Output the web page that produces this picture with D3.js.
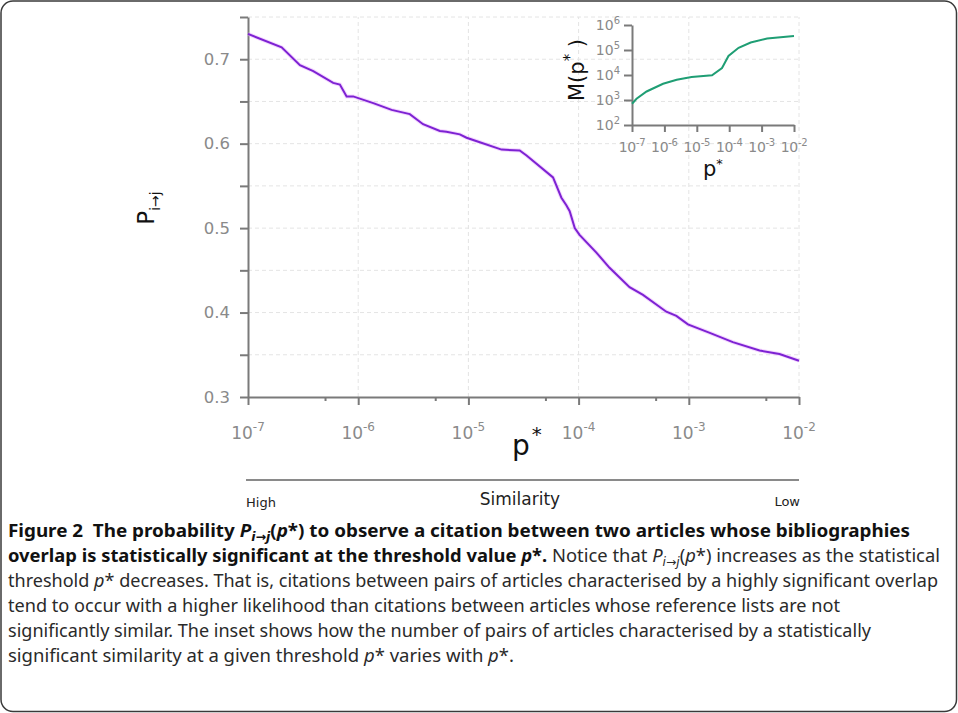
<!DOCTYPE html>
<html>
<head>
<meta charset="utf-8">
<script src="https://cdn.jsdelivr.net/npm/d3@7"></script>
<style>
  body { margin: 0; background: #fff; }
  svg { display: block; }
</style>
</head>
<body>
<script>
const width = 958;
const height = 713;

// main curve: threshold p* and probability P(i->j)
const pStar = [1e-7, 2.02e-7, 2.96e-7, 3.91e-7, 5.93e-7, 6.82e-7, 7.85e-7, 9.0e-7,
    1.37e-6, 2.01e-6, 2.94e-6, 3.88e-6, 5.51e-6, 6.32e-6, 8.36e-6, 9.62e-6,
    1.25e-5, 2.0e-5, 2.92e-5, 3.37e-5, 5.86e-5, 6.98e-5, 7.74e-5, 8.30e-5, 9.23e-5,
    1.02e-4, 1.45e-4, 1.91e-4, 2.90e-4, 3.84e-4, 6.25e-4, 7.71e-4, 9.82e-4,
    1.55e-3, 2.51e-3, 4.39e-3, 6.65e-3, 1e-2];
const pCite = [0.730, 0.714, 0.693, 0.686, 0.672, 0.670, 0.656, 0.656,
    0.648, 0.640, 0.635, 0.623, 0.615, 0.614, 0.611, 0.607,
    0.602, 0.593, 0.592, 0.586, 0.560, 0.536, 0.527, 0.520, 0.500,
    0.492, 0.471, 0.453, 0.430, 0.421, 0.401, 0.396, 0.386,
    0.376, 0.365, 0.355, 0.351, 0.343];

// inset: number of pairs M(p*)
const insetP = [1e-7, 1.38e-7, 2.82e-7, 9.1e-7, 2.4e-6, 6.9e-6, 2.95e-5, 6.0e-5, 9.5e-5, 1.95e-4, 4.6e-4, 1.48e-3, 1e-2];
const insetM = [708, 1120, 2190, 4470, 6460, 8320, 9770, 19000, 57500, 123000, 200000, 288000, 363000];

const yTickValues = [0.3, 0.35, 0.4, 0.45, 0.5, 0.55, 0.6, 0.65, 0.7, 0.75];
const xDecades = [-7, -6, -5, -4, -3, -2];
const xMinor = [5e-7, 5e-6, 5e-5, 5e-4, 5e-3];
const insetYDecades = [2, 3, 4, 5, 6];

const caption = [
  [["Figure 2\u00a0 The probability ", "b"], ["P", "bi"], ["i→j", "bis"], ["(", "b"], ["p", "bi"], ["*) to observe a citation between two articles whose bibliographies", "b"]],
  [["overlap is statistically significant at the threshold value ", "b"], ["p", "bi"], ["*.", "b"], [" Notice that ", ""], ["P", "i"], ["i→j", "is"], ["(", ""], ["p", "i"], ["*) increases as the statistical", ""]],
  [["threshold ", ""], ["p", "i"], ["* decreases. That is, citations between pairs of articles characterised by a highly significant overlap", ""]],
  [["tend to occur with a higher likelihood than citations between articles whose reference lists are not", ""]],
  [["significantly similar. The inset shows how the number of pairs of articles characterised by a statistically", ""]],
  [["significant similarity at a given threshold ", ""], ["p", "i"], ["* varies with ", ""], ["p", "i"], ["*.", ""]]
];
const captionWidths = [902, 932, 930, 832, 863, 506];

const axisColor = "#7a7a7a";
const labelColor = "#8a8a8a";
const font = "'DejaVu Sans', Verdana, sans-serif";

const svg = d3.select("body")
    .append("svg")
    .attr("width", width)
    .attr("height", height);

svg.append("rect")
    .attr("x", 1).attr("y", 1)
    .attr("width", width - 2.5).attr("height", height - 2.5)
    .attr("rx", 12)
    .attr("fill", "#fff")
    .attr("stroke", "#3a3a3a")
    .attr("stroke-width", 1.5);

// ---------- main chart ----------
const x = d3.scaleLog().domain([1e-7, 1e-2]).range([248, 799]);
const y = d3.scaleLinear().domain([0.3, 0.75]).range([397, 17]);

const grid = svg.append("g")
    .attr("stroke", "#e4e4e4")
    .attr("stroke-width", 1)
    .attr("stroke-dasharray", "4,3");
grid.selectAll(".hg")
    .data(yTickValues.slice(1))
    .enter().append("line")
    .attr("x1", x.range()[0]).attr("x2", x.range()[1])
    .attr("y1", d => y(d)).attr("y2", d => y(d));
grid.selectAll(".vg")
    .data(xDecades.slice(1))
    .enter().append("line")
    .attr("x1", d => x(Math.pow(10, d))).attr("x2", d => x(Math.pow(10, d)))
    .attr("y1", y.range()[0]).attr("y2", y.range()[1]);

function styleAxis(g) {
    g.select(".domain").attr("stroke", axisColor).attr("stroke-width", 2);
    g.selectAll(".tick line").attr("stroke", axisColor).attr("stroke-width", 2);
    g.selectAll(".tick text").attr("fill", labelColor).style("font-family", font);
}

const yAxisG = svg.append("g")
    .attr("transform", `translate(${x.range()[0]},0)`)
    .call(d3.axisLeft(y)
        .tickValues(yTickValues)
        .tickSize(8)
        .tickSizeOuter(0)
        .tickPadding(10)
        .tickFormat(d => Math.abs(d * 10 - Math.round(d * 10)) < 1e-6 ? d3.format(".1f")(d) : ""))
    .call(styleAxis);
yAxisG.selectAll(".tick text").style("font-size", "16.5px");

const xAxisG = svg.append("g")
    .attr("transform", `translate(0,${y.range()[0]})`)
    .call(d3.axisBottom(x)
        .tickValues(xDecades.map(e => Math.pow(10, e)))
        .tickSize(8)
        .tickSizeOuter(0)
        .tickFormat(""))
    .call(styleAxis);

const xMinorG = svg.append("g")
    .attr("transform", `translate(0,${y.range()[0]})`)
    .call(d3.axisBottom(x).tickValues(xMinor).tickSize(4).tickFormat(""))
    .call(styleAxis);
xMinorG.select(".domain").remove();

// power-of-ten labels
function powerLabel(sel, base, sup, exps, xs, yPos) {
    const t = sel.selectAll(null)
        .data(exps)
        .enter().append("text")
        .attr("x", d => xs(Math.pow(10, d)))
        .attr("y", yPos)
        .attr("text-anchor", "middle")
        .attr("fill", labelColor)
        .style("font-family", font)
        .style("font-size", base + "px");
    t.append("tspan").text("10");
    t.append("tspan")
        .attr("dy", -base * 0.45)
        .style("font-size", sup + "px")
        .text(d => d < 0 ? "-" + Math.abs(d) : d);
    return t;
}
powerLabel(svg, 17, 12, xDecades, x, 439);

svg.append("path")
    .datum(pStar.map((p, i) => [p, pCite[i]]))
    .attr("fill", "none")
    .attr("stroke", "#e7a6ff")
    .attr("stroke-width", 4)
    .attr("stroke-opacity", 0.45)
    .attr("d", d3.line().x(d => x(d[0])).y(d => y(d[1])));
svg.append("path")
    .datum(pStar.map((p, i) => [p, pCite[i]]))
    .attr("fill", "none")
    .attr("stroke", "#7d22d3")
    .attr("stroke-width", 2)
    .attr("d", d3.line().x(d => x(d[0])).y(d => y(d[1])));

// axis titles
const yTitle = svg.append("text")
    .attr("transform", "translate(154,208) rotate(-90)")
    .attr("text-anchor", "middle")
    .attr("fill", "#111")
    .style("font-family", font)
    .style("font-size", "23px");
yTitle.append("tspan").text("P");
yTitle.append("tspan").attr("dy", 6).style("font-size", "14px").text("i→j");

const xTitle = svg.append("text")
    .attr("x", 512).attr("y", 455)
    .attr("fill", "#111")
    .style("font-family", font)
    .style("font-size", "28px");
xTitle.append("tspan").text("p");
xTitle.append("tspan").attr("dy", -14).attr("dx", 2).style("font-size", "20px").text("*");

// similarity scale
svg.append("line")
    .attr("x1", 246).attr("x2", 799)
    .attr("y1", 480).attr("y2", 480)
    .attr("stroke", "#8a8a8a")
    .attr("stroke-width", 2);
svg.append("text")
    .attr("x", 246).attr("y", 507)
    .attr("fill", "#222")
    .style("font-family", font).style("font-size", "13px")
    .text("High");
svg.append("text")
    .attr("x", 520).attr("y", 505)
    .attr("text-anchor", "middle")
    .attr("fill", "#222")
    .style("font-family", font).style("font-size", "17px")
    .text("Similarity");
svg.append("text")
    .attr("x", 800).attr("y", 506)
    .attr("text-anchor", "end")
    .attr("fill", "#222")
    .style("font-family", font).style("font-size", "13px")
    .text("Low");

// ---------- inset ----------
const xi = d3.scaleLog().domain([1e-7, 1e-2]).range([632, 794]);
const yi = d3.scaleLog().domain([1e2, 1e6]).range([125, 25]);

svg.append("g")
    .attr("transform", `translate(${xi.range()[0]},0)`)
    .call(d3.axisLeft(yi)
        .tickValues(insetYDecades.map(e => Math.pow(10, e)))
        .tickSize(8)
        .tickSizeOuter(0)
        .tickFormat(""))
    .call(styleAxis);

svg.append("g")
    .attr("transform", `translate(0,${yi.range()[0]})`)
    .call(d3.axisBottom(xi)
        .tickValues(xDecades.map(e => Math.pow(10, e)))
        .tickSize(7)
        .tickSizeOuter(0)
        .tickFormat(""))
    .call(styleAxis);

powerLabel(svg, 14, 10, xDecades, xi, 152)
    .attr("letter-spacing", "-0.3");

svg.selectAll(".iy")
    .data(insetYDecades)
    .enter().append("text")
    .attr("x", 620)
    .attr("y", d => yi(Math.pow(10, d)) + 5)
    .attr("text-anchor", "end")
    .attr("fill", labelColor)
    .style("font-family", font)
    .style("font-size", "14px")
    .each(function(d) {
        const t = d3.select(this);
        t.append("tspan").text("10");
        t.append("tspan").attr("dy", -6).style("font-size", "10px").text(d);
    });

svg.append("path")
    .datum(insetP.map((p, i) => [p, insetM[i]]))
    .attr("fill", "none")
    .attr("stroke", "#1f9e74")
    .attr("stroke-width", 2)
    .attr("d", d3.line().x(d => xi(d[0])).y(d => yi(d[1])));

const miTitle = svg.append("text")
    .attr("transform", "translate(584,70) rotate(-90)")
    .attr("text-anchor", "middle")
    .attr("fill", "#111")
    .style("font-family", font)
    .style("font-size", "21px");
miTitle.append("tspan").text("M(p");
miTitle.append("tspan").attr("dy", -9).style("font-size", "15px").text("*");
miTitle.append("tspan").attr("dy", 9).text(" )");

const xiTitle = svg.append("text")
    .attr("x", 703).attr("y", 176)
    .attr("fill", "#111")
    .style("font-family", font)
    .style("font-size", "21px");
xiTitle.append("tspan").text("p");
xiTitle.append("tspan").attr("dy", -8).style("font-size", "13px").text("*");

// ---------- caption ----------
const capFont = "'Liberation Sans Narrow', 'Noto Sans', sans-serif";
caption.forEach((segs, i) => {
    const t = svg.append("text")
        .attr("x", 8)
        .attr("y", 537 + i * 25)
        .attr("fill", "#2a2a2a")
        .attr("textLength", captionWidths[i])
        .attr("lengthAdjust", "spacingAndGlyphs")
        .style("font-family", capFont)
        .style("font-size", "18px");
    let shifted = false;
    segs.forEach(([txt, st]) => {
        const ts = t.append("tspan").text(txt);
        if (st.includes("b")) ts.attr("font-weight", "bold").attr("fill", "#111");
        if (st.includes("i")) ts.attr("font-style", "italic");
        if (st.includes("s")) {
            ts.attr("dy", 4).style("font-size", "12px").style("font-family", font);
            shifted = true;
        } else if (shifted) {
            ts.attr("dy", -4);
            shifted = false;
        }
    });
});
</script>
</body>
</html>
